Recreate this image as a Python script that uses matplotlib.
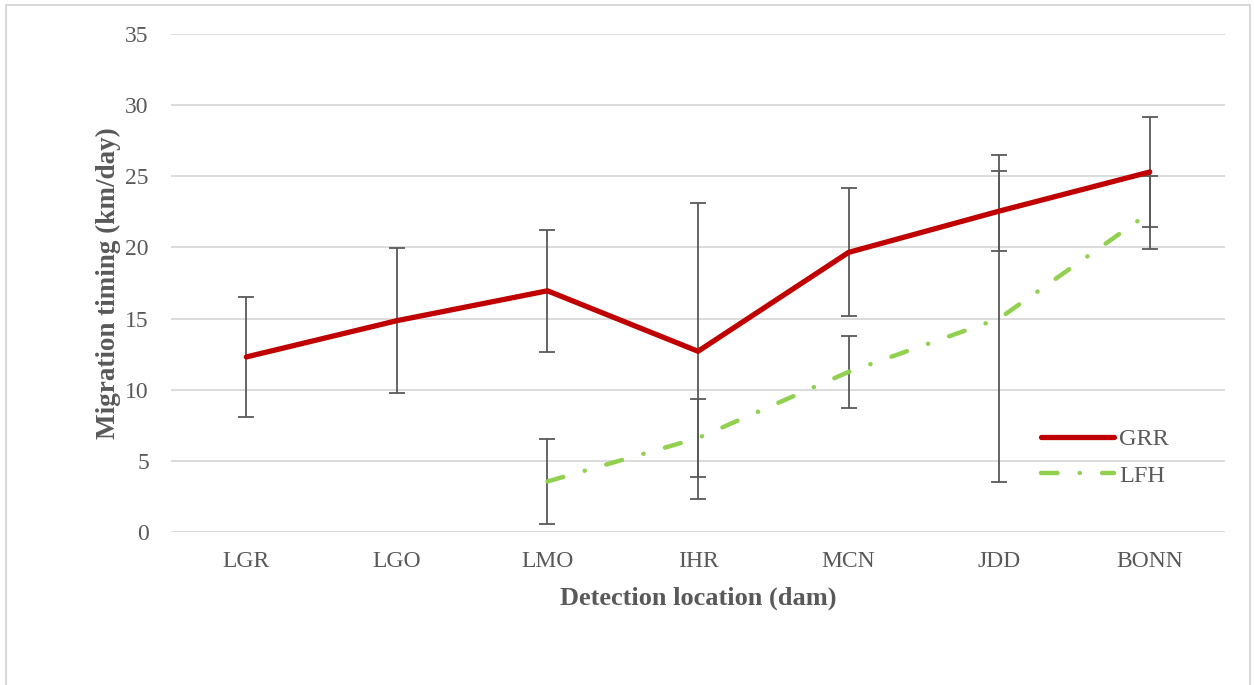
import matplotlib
matplotlib.use("Agg")
import matplotlib.pyplot as plt
from matplotlib.patches import Rectangle

# data
dams = ["LGR", "LGO", "LMO", "IHR", "MCN", "JDD", "BONN"]
grr_mean = [12.3, 14.85, 16.95, 12.7, 19.65, 22.55, 25.3]
grr_err = [4.2, 5.1, 4.3, 10.4, 4.5, 2.8, 3.9]
lfh_x = ["LMO", "IHR", "MCN", "JDD", "BONN"]
lfh_mean = [3.55, 6.6, 11.25, 15.0, 22.45]
lfh_err = [3.0, 2.75, 2.55, 11.5, 2.55]

grey = "#595959"
plt.rcParams["font.family"] = ["Liberation Serif", "DejaVu Serif"]

fig = plt.figure(figsize=(12.54, 6.85), dpi=100)
ax = fig.add_axes([0.1364, 0.2234, 0.8405, 0.727])

# outer chart frame
fig.patches.append(Rectangle((6 / 1254, -0.05), 1244 / 1254, 1 - 5 / 685 + 0.05,
                             transform=fig.transFigure, fill=False,
                             edgecolor="#d9d9d9", lw=1.5))

xg = [dams.index(d) for d in dams]
xl = [dams.index(d) for d in lfh_x]

ax.errorbar(xg, grr_mean, yerr=grr_err, fmt="none", ecolor=grey,
            elinewidth=1.3, capsize=6, capthick=1.3, zorder=2)
ax.errorbar(xl, lfh_mean, yerr=lfh_err, fmt="none", ecolor=grey,
            elinewidth=1.3, capsize=6, capthick=1.3, zorder=2)

ax.plot(xg, grr_mean, color="#c00000", lw=3.8, solid_capstyle="round",
        solid_joinstyle="miter", label="GRR", zorder=3)
ln, = ax.plot(xl, lfh_mean, color="#92d050", lw=3.2, label="LFH",
              dash_capstyle="round", zorder=3)
ln.set_linestyle((0, (3.7, 5.0, 0.05, 5.0)))

ax.set_xlim(-0.5, 6.5)
ax.set_ylim(0, 35)
ax.set_yticks(range(0, 36, 5))
ax.set_xticks(range(len(dams)))
ax.set_xticklabels(dams)
ax.grid(axis="y", color="#d9d9d9", lw=1.3)
ax.set_axisbelow(True)
for s in ax.spines.values():
    s.set_visible(False)
ax.tick_params(length=0, labelsize=17, labelcolor=grey)
ax.tick_params(axis="y", pad=16)
ax.tick_params(axis="x", pad=14)

ax.set_xlabel("Detection location (dam)", fontsize=19, fontweight="bold",
              color=grey, labelpad=10)
ax.set_ylabel("Migration timing (km/day)", fontsize=19.5, fontweight="bold",
              color=grey, labelpad=3)

leg = ax.legend(loc="upper left", bbox_to_anchor=(0.805, 0.252), frameon=False,
                fontsize=17.5, handlelength=3.0, handletextpad=0.2,
                labelspacing=0.6, labelcolor=grey)

fig.savefig("out.png", dpi=100)
